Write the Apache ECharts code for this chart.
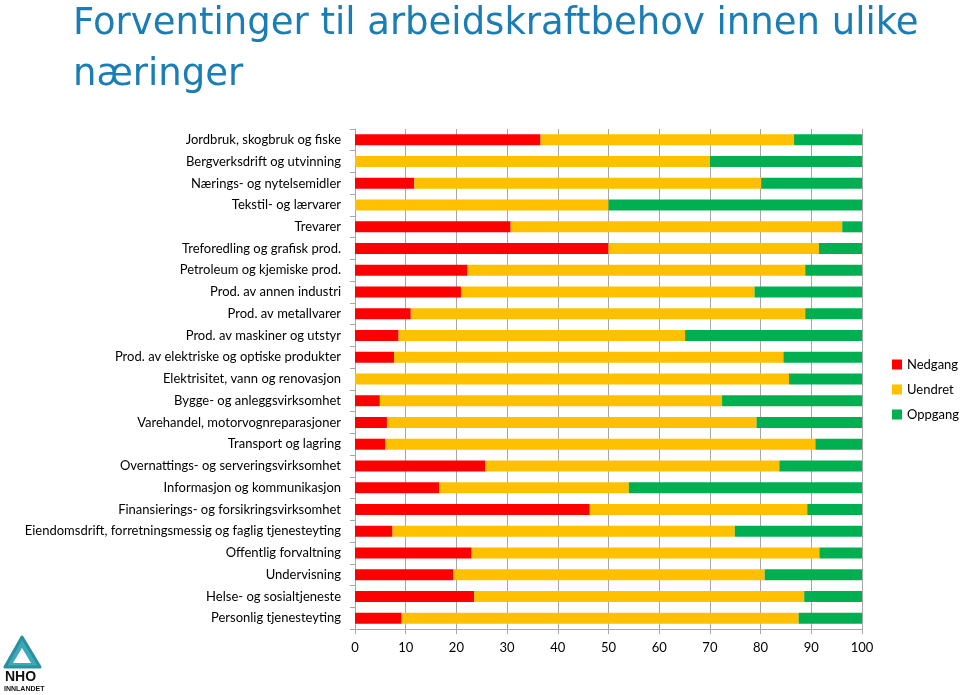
<!DOCTYPE html>
<html>
<head>
<meta charset="utf-8">
<script src="https://cdn.jsdelivr.net/npm/echarts@6/dist/echarts.min.js"></script>
<style>html,body{margin:0;padding:0;background:#fff}#c{width:960px;height:695px}</style>
</head>
<body>
<div id="c"></div>
<script>
var categories = [
  "Jordbruk, skogbruk og fiske",
  "Bergverksdrift og utvinning",
  "Nærings- og nytelsemidler",
  "Tekstil- og lærvarer",
  "Trevarer",
  "Treforedling og grafisk prod.",
  "Petroleum og kjemiske prod.",
  "Prod. av annen industri",
  "Prod. av metallvarer",
  "Prod. av maskiner og utstyr",
  "Prod. av elektriske og optiske produkter",
  "Elektrisitet, vann og renovasjon",
  "Bygge- og anleggsvirksomhet",
  "Varehandel, motorvognreparasjoner",
  "Transport og lagring",
  "Overnattings- og serveringsvirksomhet",
  "Informasjon og kommunikasjon",
  "Finansierings- og forsikringsvirksomhet",
  "Eiendomsdrift, forretningsmessig og faglig tjenesteyting",
  "Offentlig forvaltning",
  "Undervisning",
  "Helse- og sosialtjeneste",
  "Personlig tjenesteyting"
];
var nedgang = [36.6, 0, 11.7, 0, 30.7, 50, 22.2, 20.9, 11.0, 8.6, 7.7, 0, 4.9, 6.3, 6.0, 25.7, 16.6, 46.3, 7.4, 23.0, 19.4, 23.5, 9.2];
var uendret = [50.0, 70, 68.4, 50, 65.4, 41.5, 66.6, 57.9, 77.8, 56.5, 76.8, 85.6, 67.5, 72.9, 84.8, 58.0, 37.4, 42.9, 67.5, 68.6, 61.4, 65.1, 78.3];
var oppgang = [13.4, 30, 19.9, 50, 3.9, 8.5, 11.2, 21.2, 11.2, 34.9, 15.5, 14.4, 27.6, 20.8, 9.2, 16.3, 46.0, 10.8, 25.1, 8.4, 19.2, 11.4, 12.5];
var xTicks = [0, 10, 20, 30, 40, 50, 60, 70, 80, 90, 100];
var seriesNames = ["Nedgang", "Uendret", "Oppgang"];

var chart = echarts.init(document.getElementById('c'));
var labelFont = 'Lato, "Open Sans", sans-serif';
function mk(name, data, color) {
  return { name: name, type: 'bar', stack: 'tot', data: data, barWidth: 11,
    itemStyle: { color: color }, emphasis: { disabled: true }, animation: false };
}
chart.setOption({
  animation: false,
  backgroundColor: '#ffffff',
  title: {
    text: 'Forventinger til arbeidskraftbehov innen ulike\nnæringer',
    left: 68, top: -6,
    textStyle: { color: '#1B7DB6', fontSize: 37, fontWeight: 'normal', fontFamily: '"DejaVu Sans", sans-serif', lineHeight: 51 }
  },
  legend: {
    data: seriesNames, orient: 'vertical', left: 887, top: 353, itemGap: 12,
    itemWidth: 10, itemHeight: 10, icon: 'rect',
    textStyle: { fontSize: 13, color: '#000', fontFamily: labelFont }
  },
  grid: { left: 355, right: 98, top: 129, bottom: 66, containLabel: false },
  xAxis: {
    type: 'value', min: 0, max: 100, interval: 10,
    axisLine: { show: true, lineStyle: { color: '#A6A6A6' } },
    axisTick: { show: true, length: 5, lineStyle: { color: '#A6A6A6' } },
    axisLabel: { color: '#000', fontSize: 13, fontFamily: labelFont, margin: 12,
      formatter: function (v) { return xTicks.indexOf(v) >= 0 ? String(v) : ''; } },
    splitLine: { show: true, lineStyle: { color: '#A6A6A6', width: 1 } }
  },
  yAxis: {
    type: 'category', data: categories, inverse: true,
    axisLine: { show: true, lineStyle: { color: '#A6A6A6' } },
    axisTick: { show: true, length: 5, lineStyle: { color: '#A6A6A6' } },
    axisLabel: { color: '#000', fontSize: 13, fontFamily: labelFont, margin: 14 }
  },
  series: [ mk(seriesNames[0], nedgang, '#FF0000'), mk(seriesNames[1], uendret, '#FFC000'), mk(seriesNames[2], oppgang, '#00B050') ],
  graphic: [
    { type: 'polygon', shape: { points: [[22, 637], [40, 667], [5, 667]] },
      style: { fill: '#3BA9B8', stroke: '#2A8F9E', lineWidth: 3, lineJoin: 'round' } },
    { type: 'polygon', shape: { points: [[22, 648], [31, 663], [13, 663]] },
      style: { fill: '#ffffff' } },
    { type: 'text', left: 5, top: 670, style: { text: 'NHO', fill: '#111', font: 'bold 14px "Liberation Sans", sans-serif' } },
    { type: 'text', left: 4, top: 686, style: { text: 'INNLANDET', fill: '#111', font: 'bold 7px "Liberation Sans", sans-serif' } }
  ]
});
</script>
</body>
</html>
